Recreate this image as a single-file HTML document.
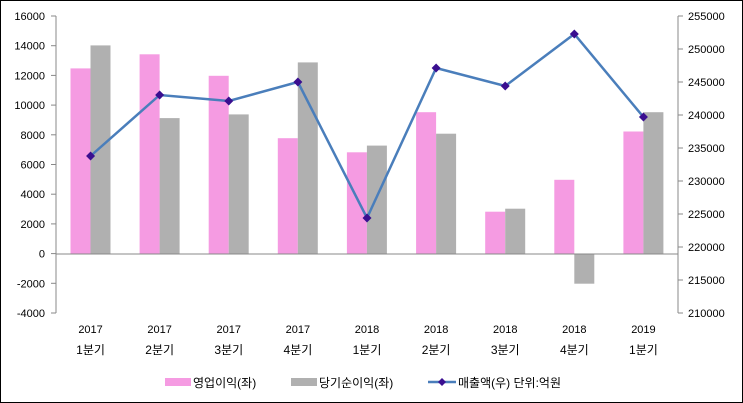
<!DOCTYPE html>
<html><head><meta charset="utf-8"><style>
html,body{margin:0;padding:0;background:#fff}
svg{display:block}
text{font-family:"Liberation Sans","Noto Sans CJK KR",sans-serif;font-size:11px;fill:#000}
.q{font-size:12px}
</style></head><body>
<svg width="743" height="403" viewBox="0 0 743 403" xmlns="http://www.w3.org/2000/svg">
<rect x="0.5" y="0.5" width="742" height="402" fill="#fff" stroke="#000" stroke-width="1"/>
<g fill="#f59be2">
<rect x="70.5" y="68.4" width="20" height="185.6"/>
<rect x="139.6" y="54.3" width="20" height="199.7"/>
<rect x="208.7" y="75.8" width="20" height="178.2"/>
<rect x="277.8" y="138.2" width="20" height="115.8"/>
<rect x="346.9" y="152.3" width="20" height="101.7"/>
<rect x="416.1" y="112.2" width="20" height="141.8"/>
<rect x="485.2" y="211.7" width="20" height="42.3"/>
<rect x="554.3" y="179.8" width="20" height="74.2"/>
<rect x="623.4" y="131.5" width="20" height="122.5"/>
</g>
<g fill="#b0b0b0">
<rect x="90.5" y="45.4" width="20" height="208.6"/>
<rect x="159.6" y="118.1" width="20" height="135.9"/>
<rect x="228.7" y="114.4" width="20" height="139.6"/>
<rect x="297.8" y="62.4" width="20" height="191.6"/>
<rect x="366.9" y="145.6" width="20" height="108.4"/>
<rect x="436.1" y="133.7" width="20" height="120.3"/>
<rect x="505.2" y="208.7" width="20" height="45.3"/>
<rect x="574.3" y="254" width="20" height="29.7"/>
<rect x="643.4" y="112.2" width="20" height="141.8"/>
</g>
<line x1="56" y1="254" x2="678" y2="254" stroke="#888"/>
<polyline points="90.56,156 159.67,95 228.78,101 297.89,82 367,218 436.11,68 505.22,86 574.33,34 643.44,117" fill="none" stroke="#4a7ebb" stroke-width="2.5"/>
<g fill="#3a0f90">
<polygon points="90.56,151.5 95.06,156 90.56,160.5 86.06,156"/>
<polygon points="159.67,90.5 164.17,95 159.67,99.5 155.17,95"/>
<polygon points="228.78,96.5 233.28,101 228.78,105.5 224.28,101"/>
<polygon points="297.89,77.5 302.39,82 297.89,86.5 293.39,82"/>
<polygon points="367,213.5 371.5,218 367,222.5 362.5,218"/>
<polygon points="436.11,63.5 440.61,68 436.11,72.5 431.61,68"/>
<polygon points="505.22,81.5 509.72,86 505.22,90.5 500.72,86"/>
<polygon points="574.33,29.5 578.83,34 574.33,38.5 569.83,34"/>
<polygon points="643.44,112.5 647.94,117 643.44,121.5 638.94,117"/>
</g>
<g stroke="#888">
<line x1="56" y1="16" x2="56" y2="313"/><line x1="678" y1="16" x2="678" y2="313"/>
<line x1="51" y1="16" x2="56" y2="16"/><line x1="51" y1="45.7" x2="56" y2="45.7"/><line x1="51" y1="75.4" x2="56" y2="75.4"/><line x1="51" y1="105.1" x2="56" y2="105.1"/><line x1="51" y1="134.8" x2="56" y2="134.8"/><line x1="51" y1="164.5" x2="56" y2="164.5"/><line x1="51" y1="194.2" x2="56" y2="194.2"/><line x1="51" y1="223.9" x2="56" y2="223.9"/><line x1="51" y1="253.6" x2="56" y2="253.6"/><line x1="51" y1="283.3" x2="56" y2="283.3"/><line x1="51" y1="313" x2="56" y2="313"/>
<line x1="678" y1="16" x2="683" y2="16"/><line x1="678" y1="49" x2="683" y2="49"/><line x1="678" y1="82" x2="683" y2="82"/><line x1="678" y1="115" x2="683" y2="115"/><line x1="678" y1="148" x2="683" y2="148"/><line x1="678" y1="181" x2="683" y2="181"/><line x1="678" y1="214" x2="683" y2="214"/><line x1="678" y1="247" x2="683" y2="247"/><line x1="678" y1="280" x2="683" y2="280"/><line x1="678" y1="313" x2="683" y2="313"/>
</g>
<g text-anchor="end">
<text x="45" y="20">16000</text><text x="45" y="49.7">14000</text><text x="45" y="79.4">12000</text><text x="45" y="109.1">10000</text><text x="45" y="138.8">8000</text><text x="45" y="168.5">6000</text><text x="45" y="198.2">4000</text><text x="45" y="227.9">2000</text><text x="45" y="257.6">0</text><text x="45" y="287.3">-2000</text><text x="45" y="317">-4000</text>
</g>
<g>
<text x="688" y="20">255000</text><text x="688" y="53">250000</text><text x="688" y="86">245000</text><text x="688" y="119">240000</text><text x="688" y="152">235000</text><text x="688" y="185">230000</text><text x="688" y="218">225000</text><text x="688" y="251">220000</text><text x="688" y="284">215000</text><text x="688" y="317">210000</text>
</g>
<g text-anchor="middle">
<text x="90.56" y="333">2017</text><text x="159.67" y="333">2017</text><text x="228.78" y="333">2017</text><text x="297.89" y="333">2017</text><text x="367" y="333">2018</text><text x="436.11" y="333">2018</text><text x="505.22" y="333">2018</text><text x="574.33" y="333">2018</text><text x="643.44" y="333">2019</text>
<text class="q" x="90.56" y="354">1분기</text><text class="q" x="159.67" y="354">2분기</text><text class="q" x="228.78" y="354">3분기</text><text class="q" x="297.89" y="354">4분기</text><text class="q" x="367" y="354">1분기</text><text class="q" x="436.11" y="354">2분기</text><text class="q" x="505.22" y="354">3분기</text><text class="q" x="574.33" y="354">4분기</text><text class="q" x="643.44" y="354">1분기</text>
</g>
<rect x="165" y="378" width="26" height="8" fill="#f59be2"/>
<text class="q" x="193" y="387">영업이익(좌)</text>
<rect x="291" y="378" width="26" height="8" fill="#b0b0b0"/>
<text class="q" x="319" y="387">당기순이익(좌)</text>
<line x1="428" y1="382" x2="456" y2="382" stroke="#4a7ebb" stroke-width="2.5"/>
<polygon points="442,378 446,382 442,386 438,382" fill="#3a0f90"/>
<text class="q" x="458" y="387">매출액(우)  단위:억원</text>
</svg>
</body></html>
